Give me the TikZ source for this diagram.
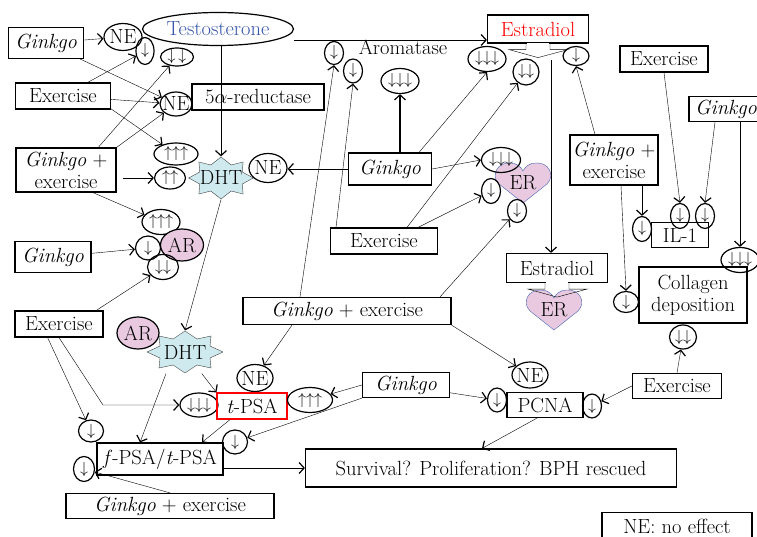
\documentclass[tikz,border=0pt]{standalone}
\usepackage{fix-cm}
\usetikzlibrary{shapes.geometric, arrows.meta, calc}
\pgfdeclarelayer{background}
\pgfsetlayers{background,main}
\definecolor{dhtfill}{RGB}{207,234,238}
\definecolor{horfill}{RGB}{233,201,224}
\definecolor{erline}{RGB}{70,100,180}
\definecolor{testoblue}{RGB}{55,85,170}
\tikzset{box/.style={draw, align=center, inner sep=2pt}}
\tikzset{eff/.style={draw, ellipse, inner sep=-3pt, font=\fontsize{16}{18}\selectfont}}
\tikzset{ne/.style={draw, ellipse, inner sep=-3pt}}
\tikzset{hormone/.style={draw, ellipse, fill=horfill, inner sep=-3pt}}
\tikzset{sz/.style 2 args={minimum width=#1pt, minimum height=#2pt}}
\tikzset{arr/.style={-{Straight Barb[length=5pt,width=11pt,line width=1.2pt]}}}
\tikzset{dhtstar/.style={draw=black!75, fill=dhtfill}}
\tikzset{erheart/.style={draw=erline, fill=horfill}}
\newcommand{\starpath}{(38,0) -- (25,-6) -- (26,-16) -- (12,-13) -- (0,-21) -- (-12,-13) -- (-26,-16) -- (-25,-6) -- (-38,0) -- (-25,6) -- (-26,16) -- (-12,13) -- (0,21) -- (12,13) -- (26,16) -- (25,6) -- cycle}
\newcommand{\heartpath}{(0,20) -- (-24,1) .. controls (-33,-8) and (-25,-21) .. (-13,-20) .. controls (-6,-20) and (-2,-16) .. (0,-12) .. controls (2,-16) and (6,-20) .. (13,-20) .. controls (25,-21) and (33,-8) .. (24,1) -- cycle}

\begin{document}
\begin{tikzpicture}[x=1pt, y=-1pt, font=\fontsize{20.5}{22}\selectfont, line width=1.2pt]
\useasboundingbox (0,0) rectangle (757,537);

% left column
\node[box, sz={75}{31}] (gk1) at (46,43) {\textit{Ginkgo}};
\node[ne, sz={38}{27}] (ne1) at (123,37) {NE};
\node[eff, sz={18}{27}] (dn1) at (145,51) {$\downarrow$};
\node[draw, ellipse, inner sep=-7pt, sz={151}{33}, text=testoblue] (testo) at (218,29) {Testosterone};
\node[eff, sz={33}{18}] (dd1) at (177,57) {$\downarrow$\,$\downarrow$};
\node[box, sz={95}{26}] (ex1) at (63,96) {Exercise};
\node[ne, sz={32}{24}] (ne2) at (176,104) {NE};
\node[box, sz={132}{26}] (red) at (258,97) {5$\alpha$-reductase};
\node[eff, sz={44}{22}] (uuu1) at (176,154) {$\uparrow\uparrow\uparrow$};
\node[box, sz={100}{44}] (gx1) at (66,170) {\textit{Ginkgo} +\\exercise};
\node[eff, sz={31}{22}] (uu1) at (170,178) {$\uparrow\uparrow$};
\node[sz={60}{42}] (dht1) at (221,178) {DHT};
\node[ne, sz={38}{29}] (ne3) at (268,168) {NE};
\node[eff, sz={38}{25}] (uuu2) at (161,222) {$\uparrow\uparrow\uparrow$};
\node[eff, sz={25}{24}] (dn2) at (148,248) {$\downarrow$};
\node[hormone, sz={43}{32}] (ar1) at (182,245) {AR};
\node[eff, sz={31}{25}] (dd2) at (163,267) {$\downarrow\downarrow$};
\node[box, sz={76}{31}] (gk3) at (53,257) {\textit{Ginkgo}};
\node[box, sz={88}{26}] (ex2) at (59,324) {Exercise};
\node[hormone, sz={42}{32}] (ar2) at (138,333) {AR};
\node[sz={64}{42}] (dht2) at (185,352) {DHT};

% PSA row
\node[ne, sz={36}{27}] (ne4) at (255,378) {NE};
\node[eff, sz={38}{24}] (ddd1) at (199,405) {$\downarrow\downarrow\downarrow$};
\node[box, draw=red, sz={70}{26}] (tpsa) at (252,406) {\textit{t}-PSA};
\node[eff, sz={45}{25}] (uuu3) at (310,400) {$\uparrow\uparrow\uparrow$};
\node[eff, sz={25}{22}] (dn3) at (91,431) {$\downarrow$};
\node[box, sz={126}{32}] (fpsa) at (160,459) {\textit{f}-PSA/\textit{t}-PSA};
\node[eff, sz={25}{24}] (dn4) at (235,442) {$\downarrow$};
\node[eff, sz={21}{25}] (dn5) at (84,469) {$\downarrow$};
\node[box, sz={208}{25}] (gx2) at (170,506) {\textit{Ginkgo} + exercise};
\node[box, sz={87}{25}] (gk4) at (406,385) {\textit{Ginkgo}};

% middle column
\node[box, sz={83}{32}] (gk2) at (390,169) {\textit{Ginkgo}};
\node[box, sz={208}{27}] (gx3) at (347,311) {\textit{Ginkgo} + exercise};
\node[box, sz={107}{26}] (ex3) at (384,241) {Exercise};
\node[inner sep=0pt] (arom) at (403,47) {Aromatase};
\node[eff, sz={19}{23}] (dn6) at (334,53) {$\downarrow$};
\node[eff, sz={19}{24}] (dn7) at (353,71) {$\downarrow$};
\node[eff, sz={38}{25}] (ddd2) at (400,81) {$\downarrow\downarrow\downarrow$};

% estradiol and ER
\node[box, sz={101}{28}, text=red] (estr1) at (538,29) {Estradiol};
\node[eff, sz={38}{25}] (ddd3) at (487,59) {$\downarrow\downarrow\downarrow$};
\node[eff, sz={26}{26}] (dd3) at (526,72) {$\downarrow\downarrow$};
\node[eff, sz={26}{19}] (dn8) at (576,56) {$\downarrow$};
\node[eff, sz={39}{25}] (ddd4) at (501,160) {$\downarrow\downarrow\downarrow$};
\node (er1) at (523,183) {ER};
\node[eff, sz={19}{25}] (dn9) at (491,191) {$\downarrow$};
\node[eff, sz={19}{23}] (dn10) at (517,211) {$\downarrow$};
\node[box, sz={101}{29}] (estr2) at (557,268) {Estradiol};
\node (er2) at (554,310) {ER};

% right column
\node[box, sz={88}{50}] (gx4) at (614,160) {\textit{Ginkgo} +\\exercise};
\node[box, sz={88}{26}] (ex4) at (664,59) {Exercise};
\node[box, sz={74}{25}] (gk5) at (726,109) {\textit{Ginkgo}};
\node[box, sz={57}{25}] (il) at (680,235) {IL-1};
\node[eff, sz={19}{25}] (dn11) at (680,216) {$\downarrow$};
\node[eff, sz={19}{25}] (dn12) at (705,216) {$\downarrow$};
\node[eff, sz={19}{25}] (dn13) at (642,229) {$\downarrow$};
\node[eff, sz={38}{25}] (ddd5) at (740,260) {$\downarrow\downarrow\downarrow$};
\node[box, sz={108}{56}] (col) at (693,295) {Collagen\\deposition};
\node[eff, sz={25}{21}] (dn14) at (626,302) {$\downarrow$};
\node[eff, sz={27}{24}] (dd4) at (683,337) {$\downarrow\downarrow$};
\node[box, sz={89}{25}] (ex5) at (677,386) {Exercise};
\node[ne, sz={36}{26}] (ne5) at (530,375) {NE};
\node[box, sz={76}{25}] (pcna) at (545,405) {PCNA};
\node[eff, sz={19}{24}] (dn15) at (497,400) {$\downarrow$};
\node[eff, sz={19}{24}] (dn16) at (592,406) {$\downarrow$};
\node[box, sz={371}{38}] (surv) at (491,468) {Survival? Proliferation? BPH rescued};
\node[box, sz={150}{27}] (legend) at (677,526) {NE: no effect};

% shapes behind the labels
\begin{pgfonlayer}{background}
\filldraw[dhtstar, shift={(dht1)}, xscale=0.85] \starpath;
\filldraw[dhtstar, shift={(dht2)}] \starpath;
\filldraw[erheart, shift={(er1)}] \heartpath;
\filldraw[erheart, shift={(er2)}] \heartpath;
\end{pgfonlayer}

% callout tails of the estradiol boxes
\fill[white, shift={(estr1.south)}] (-11.4,-1) rectangle (11.4,6);
\draw[shift={(estr1.south)}] (-12,0) -- (-12,6) -- (-29,6) -- (0,14) -- (30,6) -- (12,6) -- (12,0);
\fill[white, shift={(estr2.south)}] (-11.4,-1) rectangle (11.4,6);
\draw[shift={(estr2.south)}] (-12,0) -- (-12,6) -- (-29,6) -- (0,14) -- (30,6) -- (12,6) -- (12,0);

% connectors
\draw[arr] (gk1) -- (ne1);
\draw[arr] (ex1) -- (dn1);
\draw[arr] (gk1) -- (ne2);
\draw[arr] (ex1) -- (ne2);
\draw[arr] (ex1.-15) -- (uuu1);
\draw[arr] (gx1.35) -- (dd1);
\draw[arr] (gx1.north east) -- (ne2);
\draw[arr, shorten <=6pt] (gx1.east |- uu1) -- (uu1);
\draw[arr] (testo.south -| dht1) -- (dht1.north);
\draw[arr] (gk2.west) -- (gk2.west -| ne3.east);
\draw[arr] (gx1.-40) -- (uuu2);
\draw[arr] (gk3) -- (dn2);
\draw[arr] (ex2.20) -- (dd2);
\draw[arr] (dht1.south) -- (dht2.north);
\draw[arr] (ex2.-130) -- (dn3);
\coordinate (bend1) at (103,405);
\draw[arr] (ex2.south) -- (bend1) -- (ddd1.west);
\draw[arr] (dht2) -- (tpsa.north west);
\draw[arr] ([xshift=-19pt]dht2.south) -- ([xshift=-20pt]fpsa.north);
\draw[arr] ([xshift=-22pt]tpsa.south) -- ([xshift=42pt]fpsa.north);
\draw[arr] ([xshift=-55pt]gx3.south) -- (ne4);
\draw[arr] (gk4.west) -- (uuu3);
\draw[arr] (gk4.south west) -- (dn4);
\draw[arr] (gk4.-10) -- (dn15);
\draw[arr] (ex5.west) -- (dn16);
\draw[arr] (ex5.north) -- (dd4);
\draw[arr] ([xshift=-11pt]gk5.south) -- (dn12.north);
\draw[arr] (ddd5.north |- gk5.south) -- (ddd5.north);
\draw[arr] (ex4.south) -- (dn11.north);
\draw[arr] (dn13.north |- gx4.south) -- (dn13.north);
\draw[arr] ([xshift=7pt]gx4.south) -- (dn14.north);
\draw[arr] ([xshift=-19pt]gx4.north) -- (dn8.south);
\draw[arr] ([yshift=-11pt]testo.east) -- ([yshift=-11pt]estr1.west);
\draw[arr, line width=2.2pt] (ddd2.south |- gk2.north) -- (ddd2.south);
\draw[arr] ([xshift=29pt]gk2.north) -- (ddd3.south);
\draw[arr] (gk2.east) -- (ddd4.west);
\draw[arr] ([xshift=23pt]ex3.north) -- (dd3);
\draw[arr] ([xshift=34pt]ex3.north) -- (dn9);
\draw[arr] ([xshift=-48pt]ex3.north) -- (dn7.south);
\draw[arr] ([xshift=-47pt]gx3.north) -- (dn6.south);
\draw[arr] ([xshift=93pt]gx3.north) -- (dn10);
\draw[arr] (gx3.south east) -- (ne5);
\draw[arr] ([xshift=-8pt]pcna.south) -- ([xshift=-9pt]surv.north);
\draw[arr] (fpsa.east |- surv.west) -- (surv.west);
\draw[arr] (gx2.north) -- (dn5);
\coordinate (estrline) at (551,60);
\draw[arr] (estrline) -- (estrline |- estr2.north);
\end{tikzpicture}
\end{document}
